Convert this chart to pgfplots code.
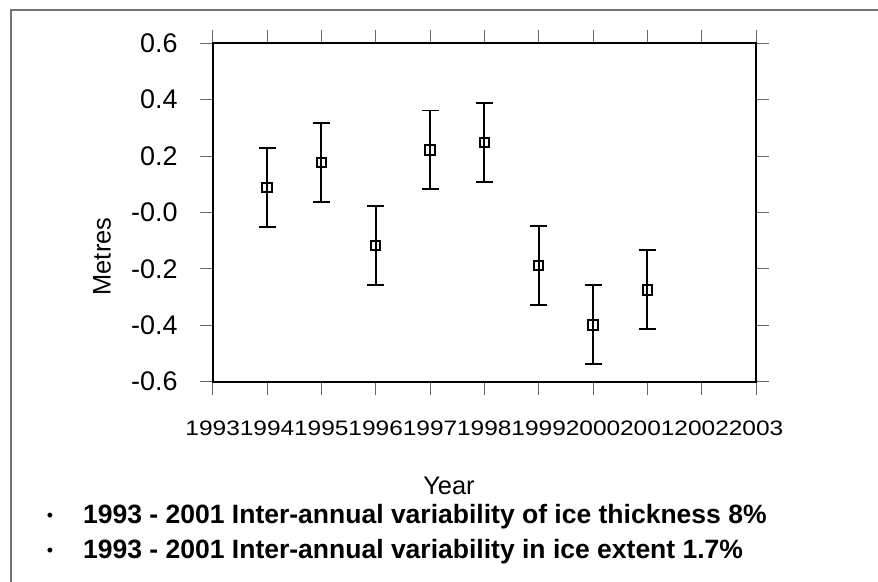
\documentclass[border=0pt]{standalone}
\usepackage{pgfplots}
\pgfplotsset{compat=1.18}
\usepackage{fontspec}
\setmainfont{Liberation Sans}
\newcommand\xl[1]{{\fontsize{21}{21}\selectfont\scalebox{1.17}[1]{#1}}}
\newcommand\yl[1]{{\fontsize{27}{27}\selectfont #1}}
\begin{document}
\begin{tikzpicture}[x=1bp,y=-1bp]
\path[use as bounding box] (0,0) rectangle (878,582);
\fill[white] (0,0) rectangle (878,582);
\draw[black!55, line width=1.2bp] (11,582) -- (11,10) -- (878,10);
\begin{axis}[
  at={(212.7bp,-381.7bp)}, anchor=south west,
  scale only axis, width=543.3bp, height=338.4bp,
  xmin=1993, xmax=2003, ymin=-0.6, ymax=0.6,
  xtick={1993,1994,1995,1996,1997,1998,1999,2000,2001,2002,2003},
  xticklabels={\xl{1993},\xl{1994},\xl{1995},\xl{1996},\xl{1997},\xl{1998},\xl{1999},\xl{2000},\xl{2001},\xl{2002},\xl{2003}},
  ytick={-0.6,-0.4,-0.2,0,0.2,0.4,0.6},
  yticklabels={\yl{-0.6},\yl{-0.4},\yl{-0.2},\yl{-0.0},\yl{0.2},\yl{0.4},\yl{0.6}},
  tick align=outside, major tick length=13bp,
  tick style={black!60, line width=0.9bp},
  axis line style={line width=2.2bp},
  xticklabel style={inner sep=0pt, anchor=center, yshift=-34bp},
  yticklabel style={inner sep=0pt, anchor=east, xshift=-22bp},
  clip=false,
]
\addplot[only marks, mark=square, mark size=4.8bp,
  every mark/.append style={line width=2bp, black, solid},
  error bars/.cd, y dir=both, y explicit,
  error bar style={line width=1.8bp, black},
  error mark=-, error mark options={rotate=90, line width=1.8bp, mark size=8.5bp, black}]
coordinates {
(1994, 0.088) +- (0,0.14)
(1995, 0.178) +- (0,0.14)
(1996,-0.117) +- (0,0.14)
(1997, 0.222) +- (0,0.14)
(1998, 0.248) +- (0,0.14)
(1999,-0.188) +- (0,0.14)
(2000,-0.398) +- (0,0.14)
(2001,-0.274) +- (0,0.14)
};
\end{axis}
\node[font=\fontsize{25.5}{25.5}\selectfont, rotate=90] at (102,256.5) {Metres};
\node[font=\fontsize{25.5}{25.5}\selectfont] at (449,486) {Year};
\node[font=\fontsize{18}{18}\selectfont] at (50,517) {•};
\node[font=\fontsize{18}{18}\selectfont] at (50,552) {•};
\node[font=\bfseries\fontsize{26.6}{26.6}\selectfont, anchor=west, inner sep=0pt] at (83,517) {1993 - 2001 Inter-annual variability of ice thickness 8\%};
\node[font=\bfseries\fontsize{26.6}{26.6}\selectfont, anchor=west, inner sep=0pt] at (83,552) {1993 - 2001 Inter-annual variability in ice extent 1.7\%};
\end{tikzpicture}
\end{document}
